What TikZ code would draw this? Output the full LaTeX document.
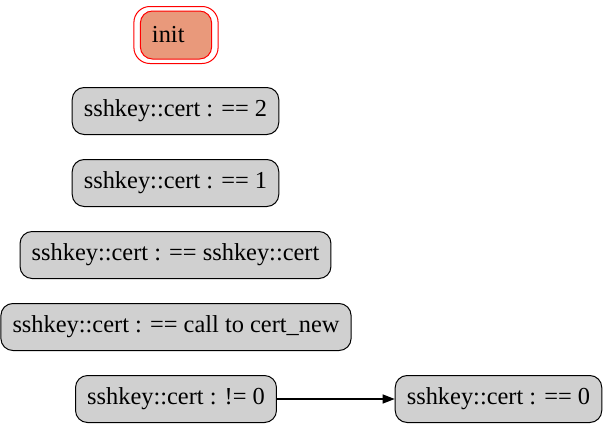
\documentclass[tikz,border=0pt]{standalone}
\usepackage{fontspec}
\setmainfont{Liberation Serif}
\usepackage{tikz}
\usetikzlibrary{arrows.meta}

\definecolor{statefill}{HTML}{D0D0D0}
\definecolor{initfill}{HTML}{E9997B}

\begin{document}
\begin{tikzpicture}[x=0.5pt,y=-0.5pt,
    state/.style={draw=black,fill=statefill,rounded corners=6pt,line width=0.5pt,
      minimum height=23.5pt,inner xsep=5.8pt,font=\fontsize{12.2}{14}\selectfont},
    initstate/.style={state,draw=red,fill=initfill,minimum width=35.5pt,minimum height=24pt},
    edge/.style={-{Triangle[length=6pt,width=4.5pt]},line width=0.6pt}]
      \useasboundingbox (0,0) rectangle (607,429);
      \node[initstate] (init) at (176,35) {\makebox[24pt][l]{init}};
      \draw[red,line width=0.5pt,rounded corners=8pt] ([shift={(-6,-4)}]init.north west) rectangle ([shift={(6,4)}]init.south east);
      \node[state] (eq2) at (175.5,111) {sshkey::cert : == 2};
      \node[state] (eq1) at (175.5,183) {sshkey::cert : == 1};
      \node[state] (eqcert) at (175.5,255) {sshkey::cert : == sshkey::cert};
      \node[state] (eqnew) at (176,327) {sshkey::cert : == call to cert\_new};
      \node[state] (ne0) at (176,399) {sshkey::cert : != 0};
      \node[state] (eq0) at (498.5,399) {sshkey::cert : == 0};
      \draw[edge] (ne0) -- (eq0);
\end{tikzpicture}
\end{document}
